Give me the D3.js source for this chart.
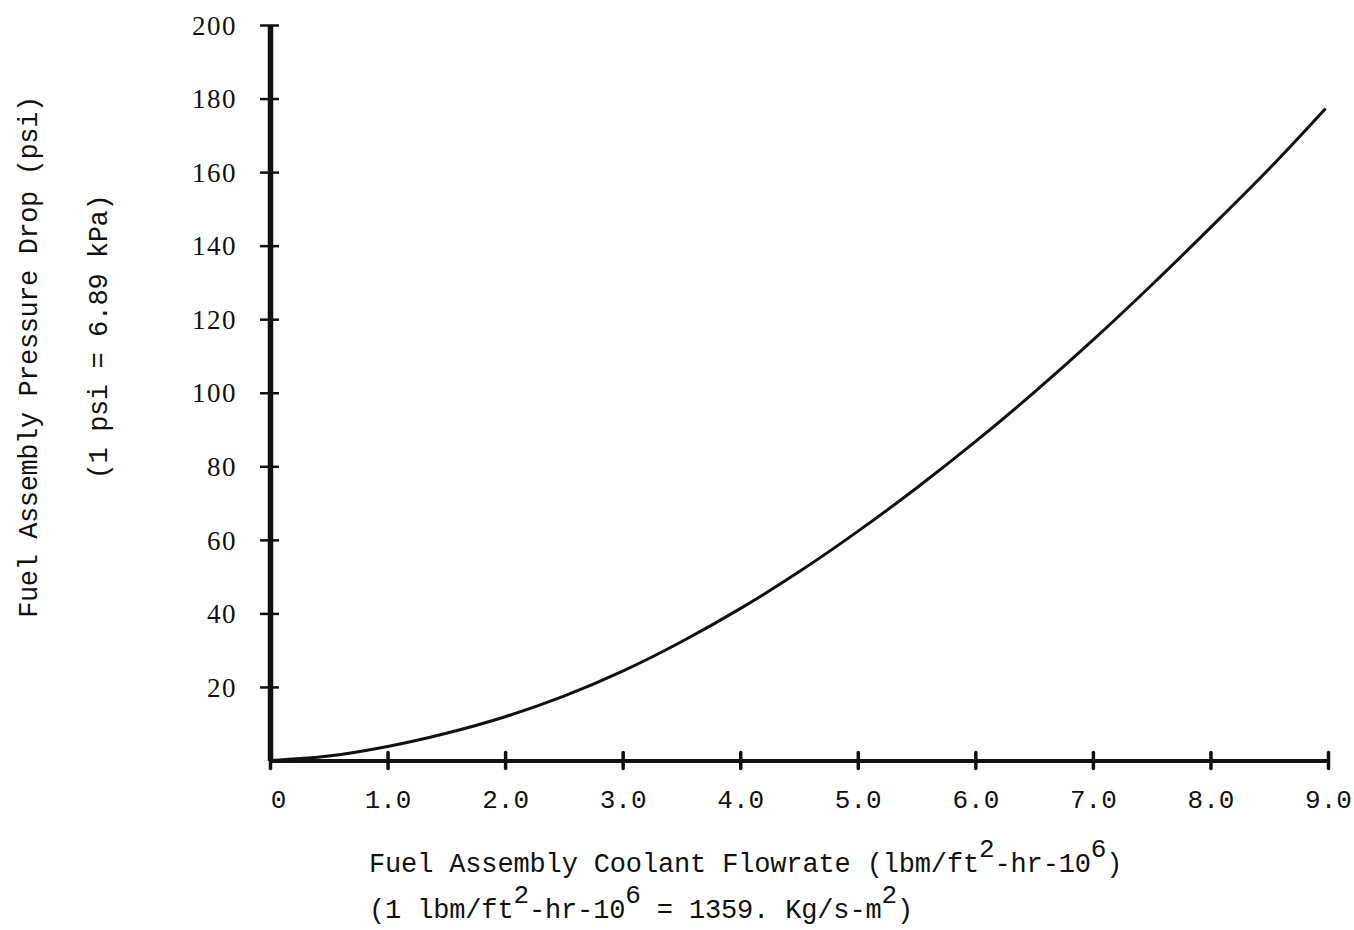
<!DOCTYPE html>
<html>
<head>
  <meta charset="utf-8">
  <title>Fuel Assembly Pressure Drop</title>
  <script src="https://d3js.org/d3.v7.min.js"></script>
  <style>
    body { margin: 0; background: #fff; }
    svg { display: block; }
    .mono { font-family: "Liberation Mono", monospace; fill: #111; }
    .ylab { font-family: "Liberation Serif", serif; fill: #111; }
  </style>
</head>
<body>
  <div id="chart"></div>
  <script>
    // values
    var xTicks = [0, 1, 2, 3, 4, 5, 6, 7, 8, 9];
    var xTickLabels = ["0", "1.0", "2.0", "3.0", "4.0", "5.0", "6.0", "7.0", "8.0", "9.0"];
    var yTicks = [20, 40, 60, 80, 100, 120, 140, 160, 180, 200];

    var flowrate = [0, 0.5, 1, 1.5, 2, 2.5, 3, 3.5, 4, 4.5, 5, 5.5, 6, 6.5, 7, 7.5, 8, 8.5, 8.98];
    var pressureDrop = [0, 1.2, 3.8, 7.4, 11.9, 17.5, 24.3, 32.3, 41.3, 51.3, 62.3, 74.1, 86.7, 100.1, 114.3, 129.3, 144.9, 160.9, 177.3];

    var width = 1354, height = 930;

    var svg = d3.select("#chart").append("svg")
      .attr("width", width)
      .attr("height", height);

    var x = d3.scaleLinear().domain([0, 9]).range([270, 1328]);
    var y = d3.scaleLinear().domain([0, 200]).range([760.5, 25]);

    // x axis
    var xAxis = svg.append("g")
      .attr("transform", "translate(0," + y(0) + ")")
      .call(d3.axisBottom(x).tickValues(xTicks).tickSize(0).tickSizeOuter(0)
        .tickFormat(function(d, i) { return xTickLabels[i]; }));
    xAxis.select(".domain").attr("stroke", "#111").attr("stroke-width", 4);
    xAxis.selectAll(".tick line")
      .attr("y1", -8).attr("y2", 8)
      .attr("stroke", "#111").attr("stroke-width", 3.5)
      .attr("stroke-linecap", "round");
    xAxis.selectAll(".tick text")
      .attr("class", "mono")
      .attr("y", 47.5).attr("dy", 0)
      .attr("dx", function(d) { return d === 0 ? 8 : 0; })
      .style("font-size", "26px");

    // y axis
    var yAxis = svg.append("g")
      .attr("transform", "translate(" + x(0) + ",0)")
      .call(d3.axisLeft(y).tickValues(yTicks).tickSize(0).tickSizeOuter(0).tickPadding(33));
    yAxis.select(".domain").attr("stroke", "#111").attr("stroke-width", 5.5);
    yAxis.selectAll(".tick line")
      .attr("x1", -10).attr("x2", 9)
      .attr("stroke", "#111").attr("stroke-width", 2.5);
    yAxis.selectAll(".tick text")
      .attr("class", "ylab")
      .attr("dy", "0.34em")
      .style("letter-spacing", "1.5px")
      .style("font-size", "27px");

    xAxis.selectAll("text").attr("font-family", null);
    yAxis.selectAll("text").attr("font-family", null);
    xAxis.attr("font-size", null);
    yAxis.attr("font-size", null);

    // curve
    var pts = flowrate.map(function(f, i) { return [f, pressureDrop[i]]; });
    svg.append("path")
      .datum(pts)
      .attr("fill", "none")
      .attr("stroke", "#111")
      .attr("stroke-width", 3)
      .attr("d", d3.line()
        .x(function(d) { return x(d[0]); })
        .y(function(d) { return y(d[1]); })
        .curve(d3.curveCatmullRom));

    // titles
    function supLine(g, parts, xPos, yPos) {
      var t = g.append("text")
        .attr("class", "mono")
        .attr("x", xPos).attr("y", yPos)
        .style("font-size", "27px")
        .style("letter-spacing", "-0.15px");
      var raised = false;
      parts.forEach(function(p) {
        var sup = p.charAt(0) === "^";
        var txt = sup ? p.slice(1) : p;
        var dy = 0;
        if (sup && !raised) { dy = -15; raised = true; }
        else if (!sup && raised) { dy = 15; raised = false; }
        t.append("tspan")
          .attr("dy", dy)
          .style("font-size", sup ? "26px" : null)
          .text(txt);
      });
      return t;
    }

    var xt = svg.append("g");
    supLine(xt, ["Fuel Assembly Coolant Flowrate (lbm/ft", "^2", "-hr-10", "^6", ")"], 369, 872);
    supLine(xt, ["(1 lbm/ft", "^2", "-hr-10", "^6", " = 1359. Kg/s-m", "^2", ")"], 369, 918);

    var yt = svg.append("g");
    yt.append("text")
      .attr("class", "mono")
      .attr("transform", "translate(37,357) rotate(-90)")
      .attr("text-anchor", "middle")
      .style("font-size", "27px")
      .style("letter-spacing", "-0.4px")
      .text("Fuel Assembly Pressure Drop (psi)");
    yt.append("text")
      .attr("class", "mono")
      .attr("transform", "translate(107,337) rotate(-90)")
      .attr("text-anchor", "middle")
      .style("font-size", "27px")
      .style("letter-spacing", "-0.4px")
      .text("(1 psi = 6.89 kPa)");
  </script>
</body>
</html>
